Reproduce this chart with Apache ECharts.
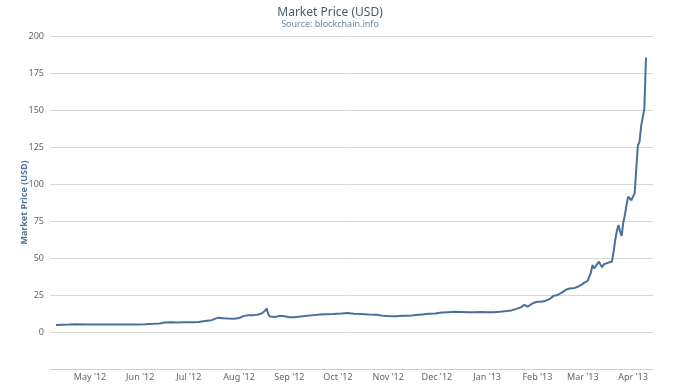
<!DOCTYPE html>
<html>
<head>
<meta charset="utf-8">
<script src="https://cdn.jsdelivr.net/npm/echarts@6/dist/echarts.min.js"></script>
<style>
html,body{margin:0;padding:0;background:#fff;}
#chart{width:680px;height:390px;}
</style>
</head>
<body>
<div id="chart"></div>
<script>
const titleText = "Market Price (USD)";
const subtitleText = "Source: blockchain.info";
const yAxisTitle = "Market Price (USD)";
const monthNames = ["Jan","Feb","Mar","Apr","May","Jun","Jul","Aug","Sep","Oct","Nov","Dec"];

const dates = [
 "2012-04-10","2012-04-14","2012-04-18","2012-04-23","2012-04-28","2012-05-03","2012-05-08","2012-05-14",
 "2012-05-19","2012-05-24","2012-05-29","2012-06-04","2012-06-09","2012-06-13","2012-06-16","2012-06-20",
 "2012-06-24","2012-06-28","2012-07-03","2012-07-07","2012-07-11","2012-07-15","2012-07-17","2012-07-19",
 "2012-07-22","2012-07-25","2012-07-29","2012-08-01","2012-08-04","2012-08-07","2012-08-10","2012-08-13",
 "2012-08-15","2012-08-17","2012-08-18","2012-08-19","2012-08-20","2012-08-23","2012-08-26","2012-08-27",
 "2012-08-29","2012-09-01","2012-09-04","2012-09-08","2012-09-12","2012-09-16","2012-09-20","2012-09-24",
 "2012-09-28","2012-10-03","2012-10-07","2012-10-11","2012-10-15","2012-10-20","2012-10-25","2012-10-29",
 "2012-11-02","2012-11-06","2012-11-10","2012-11-14","2012-11-18","2012-11-22","2012-11-26","2012-11-30",
 "2012-12-04","2012-12-08","2012-12-12","2012-12-16","2012-12-20","2012-12-24","2012-12-28","2013-01-01",
 "2013-01-05","2013-01-09","2013-01-13","2013-01-16","2013-01-19","2013-01-22","2013-01-24","2013-01-26",
 "2013-01-28","2013-01-30","2013-02-01","2013-02-03","2013-02-06","2013-02-09","2013-02-11","2013-02-13",
 "2013-02-16","2013-02-19","2013-02-21","2013-02-24","2013-02-26","2013-02-28","2013-03-02","2013-03-04",
 "2013-03-06","2013-03-07","2013-03-08","2013-03-09","2013-03-11","2013-03-12","2013-03-13","2013-03-14",
 "2013-03-15","2013-03-17","2013-03-19","2013-03-20","2013-03-21","2013-03-22","2013-03-23","2013-03-24",
 "2013-03-25","2013-03-26","2013-03-27","2013-03-28","2013-03-29","2013-03-30","2013-03-31","2013-04-01",
 "2013-04-02","2013-04-03","2013-04-04","2013-04-05","2013-04-06","2013-04-07","2013-04-08","2013-04-09"
];
const prices = [
 4.8,4.9,5.0,5.2,5.1,5.1,5.05,5.0,
 5.1,5.1,5.15,5.3,5.5,5.7,6.4,6.6,
 6.5,6.6,6.6,6.8,7.5,8.0,8.9,9.7,
 9.3,9.1,9.0,9.4,10.9,11.3,11.4,11.8,
 12.6,14.4,15.8,12.0,10.4,10.2,10.9,11.9,
 10.6,10.0,9.9,10.5,11.0,11.4,11.8,12.0,
 12.2,12.5,12.8,12.3,12.2,11.9,11.7,10.9,
 10.6,10.7,10.9,10.9,11.5,11.9,12.3,12.5,
 13.2,13.4,13.6,13.5,13.4,13.4,13.5,13.4,
 13.4,13.7,14.2,14.6,15.6,16.8,18.4,17.2,
 18.6,19.8,20.4,20.4,21.0,22.6,24.4,24.8,
 26.6,28.8,29.4,29.8,30.6,31.8,33.4,34.5,
 40.0,45.3,43.0,44.2,47.5,45.5,43.7,45.8,
 46.4,46.9,47.5,54.0,62.0,68.0,72.3,68.0,
 64.9,74.0,79.0,86.0,91.4,90.2,89.0,91.5,
 93.7,110.0,126.0,128.5,139.0,145.0,151.0,185.5
];
const yTicks = [0,25,50,75,100,125,150,175,200];

const font = "'Noto Sans', 'Open Sans', sans-serif";
const chart = echarts.init(document.getElementById('chart'), null, {renderer:'canvas'});
chart.setOption({
  animation:false,
  backgroundColor:'#ffffff',
  title:{
    text:titleText, subtext:subtitleText,
    left:325, top:2, textAlign:'center', itemGap:1,
    textStyle:{color:'#4A5A6A', fontSize:12, fontWeight:'normal', fontFamily:font},
    subtextStyle:{color:'#6D869F', fontSize:9, fontFamily:font}
  },
  grid:{left:50, right:27, top:36, bottom:21, containLabel:false},
  xAxis:{
    type:'time',
    min:new Date(2012,3,6,8).getTime(),
    max:new Date(2013,3,13,8).getTime(),
    splitNumber:12,
    axisLine:{show:true, onZero:false, lineStyle:{color:'#C0D0E0', width:1}},
    axisTick:{show:false},
    splitLine:{show:false},
    axisLabel:{
      color:'#666', fontSize:9, fontFamily:font, margin:4,
      showMinLabel:false, showMaxLabel:false,
      formatter:function(v){const d=new Date(v); return monthNames[d.getMonth()]+" '"+String(d.getFullYear()).slice(2);}
    }
  },
  yAxis:{
    type:'value', min:-25, max:200, interval:25,
    name:yAxisTitle, nameLocation:'middle', nameGap:21, nameRotate:90, nameMoveOverlap:false,
    nameTextStyle:{color:'#4D759E', fontWeight:'bold', fontSize:9, fontFamily:font},
    axisLine:{show:false}, axisTick:{show:false},
    splitLine:{show:true, lineStyle:{color:'#D8D8D8', width:1}},
    axisLabel:{color:'#666', fontSize:9, fontFamily:font, margin:6,
      formatter:function(v){return yTicks.indexOf(v)>=0 ? String(v) : '';}}
  },
  series:[{
    type:'line',
    data:dates.map((d,i)=>[d,prices[i]]),
    showSymbol:false, symbol:'none',
    lineStyle:{color:'#4A6F9C', width:2},
    itemStyle:{color:'#4A6F9C'}
  }]
});
</script>
</body>
</html>
